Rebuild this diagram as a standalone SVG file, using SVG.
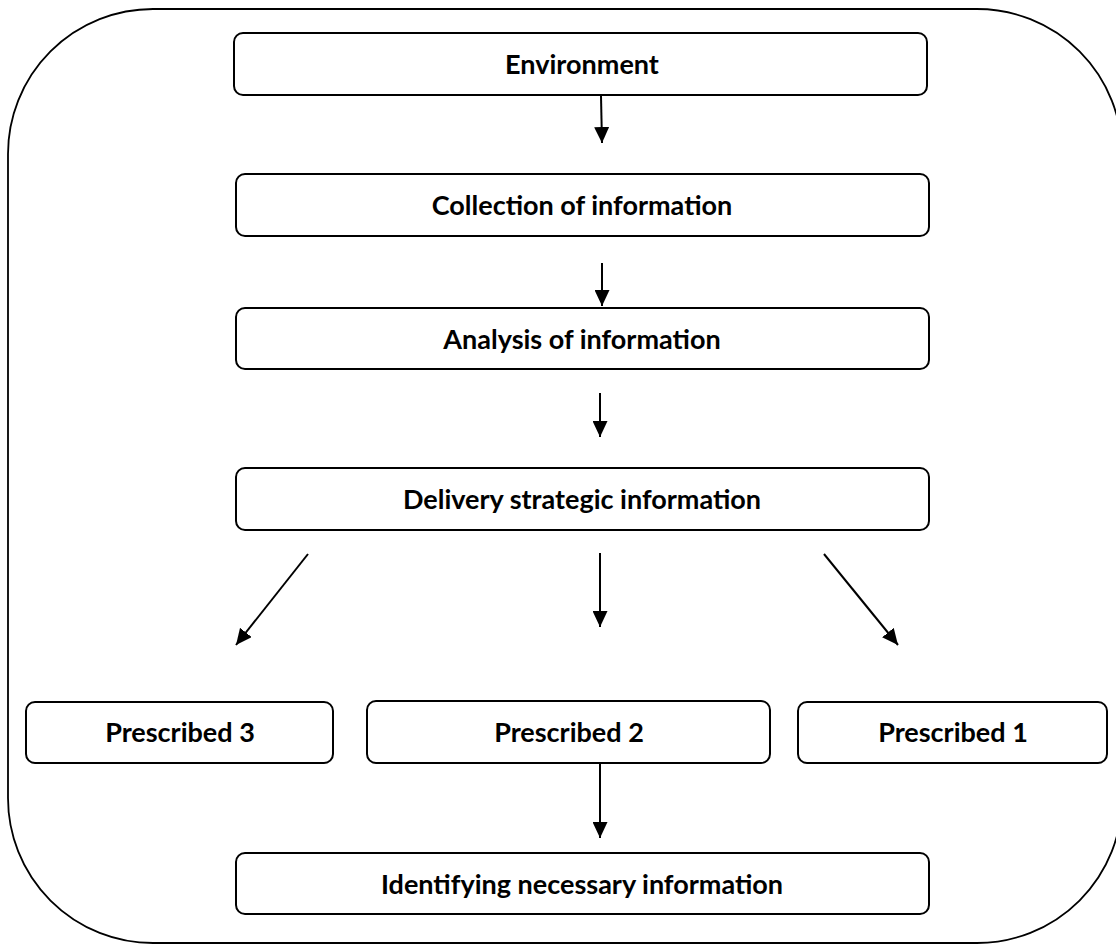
<svg xmlns="http://www.w3.org/2000/svg" width="1116" height="945" viewBox="0 0 1116 945">
<defs>
<style>
.frame{fill:none;stroke:#000;stroke-width:1.8}
.box{fill:#fff;stroke:#000;stroke-width:2}
.lbl{font-family:Lato,"Liberation Sans",sans-serif;font-weight:700;font-size:27px;fill:#000;text-anchor:middle}
.con{stroke:#000;stroke-width:2;fill:none;marker-end:url(#ah)}
</style>
<marker id="ah" markerUnits="userSpaceOnUse" markerWidth="16" markerHeight="15" refX="16" refY="7.5" orient="auto">
<path d="M0,0 L16,7.5 L0,15 z" fill="#000"/>
</marker>
</defs>
<rect width="1116" height="945" fill="#fff"/>
<rect class="frame" x="8" y="9" width="1114" height="934" rx="145" ry="145"/>
<g id="n-environment"><rect class="box" x="234" y="33" width="693" height="62" rx="9"/><text class="lbl" x="582" y="74">Environment</text></g>
<g id="n-collection"><rect class="box" x="236" y="174" width="693" height="62" rx="9"/><text class="lbl" x="582" y="215">Collection of information</text></g>
<g id="n-analysis"><rect class="box" x="236" y="308" width="693" height="61" rx="9"/><text class="lbl" x="582" y="348.5">Analysis of information</text></g>
<g id="n-delivery"><rect class="box" x="236" y="468" width="693" height="62" rx="9"/><text class="lbl" x="582" y="509">Delivery strategic information</text></g>
<g id="n-p3"><rect class="box" x="26" y="702" width="307" height="61" rx="9"/><text class="lbl" x="180" y="742">Prescribed 3</text></g>
<g id="n-p2"><rect class="box" x="367" y="701" width="403" height="62" rx="9"/><text class="lbl" x="569" y="742">Prescribed 2</text></g>
<g id="n-p1"><rect class="box" x="798" y="702" width="309" height="61" rx="9"/><text class="lbl" x="953" y="742">Prescribed 1</text></g>
<g id="n-identifying"><rect class="box" x="236" y="853" width="693" height="61" rx="9"/><text class="lbl" x="582" y="893.5">Identifying necessary information</text></g>
<g id="connectors">
<line class="con" x1="601" y1="96" x2="602" y2="143"/>
<line class="con" x1="602" y1="263" x2="602" y2="306"/>
<line class="con" x1="600" y1="393" x2="600" y2="437"/>
<line class="con" x1="308" y1="554" x2="236" y2="645"/>
<line class="con" x1="600" y1="553" x2="600" y2="627"/>
<line class="con" x1="824" y1="554" x2="898" y2="645"/>
<line class="con" x1="600" y1="764" x2="600" y2="838"/>
</g>
</svg>
